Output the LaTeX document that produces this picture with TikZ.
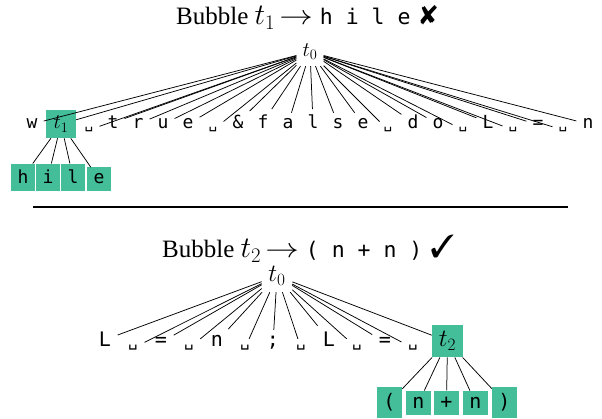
\documentclass[tikz,border=0pt]{standalone}
\usepackage[no-math]{fontspec}
\setmainfont{Liberation Serif}
\setmonofont{DejaVu Sans Mono}
\usepackage{pifont}
\definecolor{boxgreen}{RGB}{68,190,153}
\newcommand\vs{\scalebox{0.8}{\char"2423}}
\tikzset{
  edge/.style={draw=black, line width=0.75pt},
  tokA/.style={font=\fontsize{18}{20}\selectfont\ttfamily, inner sep=6pt, anchor=base},
  boxA/.style={tokA, fill=boxgreen, inner sep=6.6pt},
  mathA/.style={font=\fontsize{22}{24}\selectfont, inner sep=6pt},
  tokB/.style={font=\fontsize{20}{22}\selectfont\ttfamily, inner sep=6.5pt, anchor=base},
  boxB/.style={tokB, fill=boxgreen, inner sep=6.5pt},
  mathB/.style={font=\fontsize{23}{26}\selectfont, inner sep=6.5pt},
  titletext/.style={font=\fontsize{25}{30}\selectfont, inner sep=0pt, anchor=base west},
}
\newcommand\titlett[1]{{\fontsize{21.5}{24}\selectfont\ttfamily #1}}
\newcommand\titlemath[1]{\scalebox{1.2}{$#1$}}
\newcommand\titlearrow{\hspace{4pt}\scalebox{1.35}[1.1]{$\to$}\hspace{7pt}}
\begin{document}
\begin{tikzpicture}[x=1pt,y=-1pt]
\useasboundingbox (0,0) rectangle (602,419);
% ---------- first bubble ----------
\node[titletext] (title1) at (176,25) {Bubble \titlemath{t_1}\titlearrow\titlett{h i l e}\hspace{9pt}{\fontsize{27}{30}\selectfont\ding{56}}};
\node[mathA] (a0) at (310,52) {$t_0$};
\node[boxA, mathA, anchor=base, minimum width=30pt] (a2) at (61,129) {$t_1$};
\foreach \i/\x/\t in {1/32/w, 3/89/\vs, 4/113/t, 5/138/r, 6/163/u, 7/188/e, 8/213/\vs, 9/238/\&,
  10/263/f, 11/288/a, 12/313/l, 13/338/s, 14/363/e, 15/388/\vs, 16/413/d, 17/438/o, 18/463/\vs,
  19/488/L, 20/513/\vs, 21/538/=, 22/563/\vs, 23/588/n}
  \node[tokA] (a\i) at (\x,129) {\t};
\foreach \i/\x/\t in {1/23/h, 2/48/i, 3/73/l, 4/99/e}
  \node[boxA] (h\i) at (\x,184) {\t};
\foreach \i in {1,...,23} \draw[edge] (a0) -- (a\i);
\foreach \i in {1,...,4} \draw[edge] (a2) -- (h\i);
% ---------- separator ----------
\coordinate (s1) at (33,207);
\coordinate (s2) at (568,207);
\draw[line width=1.3pt] (s1) -- (s2);
% ---------- second bubble ----------
\node[titletext] (title2) at (162,258) {Bubble \titlemath{t_2}\titlearrow\titlett{( n + n )}\hspace{8pt}{\fontsize{32}{34}\selectfont\ding{51}}};
\node[mathB] (b0) at (277,276) {$t_0$};
\foreach \i/\x/\t in {1/105/L, 2/133/\vs, 3/161/=, 4/189/\vs, 5/217/n, 6/245/\vs, 7/273/;,
  8/301/\vs, 9/329/L, 10/357/\vs, 11/385/=, 12/413/\vs}
  \node[tokB] (b\i) at (\x,347) {\t};
\node[boxB, mathB, anchor=base, minimum width=31pt] (b13) at (447.5,347) {$t_2$};
\foreach \i/\x/\t in {1/389.5/(, 2/418.5/n, 3/446.5/+, 4/475.5/n, 5/504.5/)}
  \node[boxB] (c\i) at (\x,408.5) {\t};
\foreach \i in {1,...,13} \draw[edge] (b0) -- (b\i);
\foreach \i in {1,...,5} \draw[edge] (b13) -- (c\i);
\end{tikzpicture}
\end{document}
